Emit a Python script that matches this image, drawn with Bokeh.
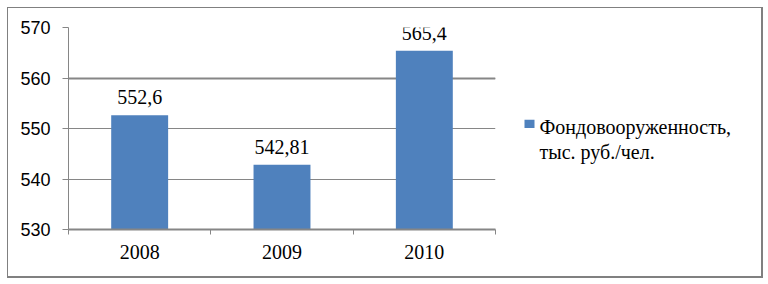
from bokeh.plotting import figure
from bokeh.layouts import row
from bokeh.models import (Range1d, FixedTicker, ColumnDataSource, LabelSet, Grid)
from bokeh.core.properties import value
from bokeh.embed import file_html
from bokeh.resources import INLINE

years = ["2008", "2009", "2010"]
values = [552.6, 542.81, 565.4]
value_labels = [str(v).replace(".", ",") for v in values]
y_ticks = [530, 540, 550, 560, 570]
series_name = "Фондовооруженность,\nтыс. руб./чел."

BAR = "#4F81BD"
GRID = "#868686"

xs = [i + 0.5 for i in range(len(years))]
src = ColumnDataSource(dict(x=xs, top=values, lbl=value_labels))

p = figure(width=492, height=268, output_backend="svg", toolbar_location=None,
           x_range=Range1d(0, len(years)), y_range=Range1d(y_ticks[0], y_ticks[-1]),
           min_border_left=60, min_border_right=5, min_border_top=19,
           min_border_bottom=47)
p.outline_line_color = None
p.background_fill_color = "white"
p.border_fill_color = "white"

bars = p.vbar(x="x", top="top", bottom=y_ticks[0], width=0.4, source=src,
              fill_color=BAR, line_color=None)

# axes
p.xaxis.ticker = FixedTicker(ticks=xs, minor_ticks=list(range(len(years) + 1)))
p.xaxis.major_label_overrides = {x: y for x, y in zip(xs, years)}
p.xaxis.major_tick_out = 0
p.xaxis.major_tick_in = 0
p.xaxis.minor_tick_out = 5
p.xaxis.minor_tick_in = 0
p.xaxis.minor_tick_line_color = GRID
p.xaxis.axis_line_color = GRID
p.xaxis.axis_line_width = 2
p.xaxis.major_label_text_font = "Liberation Serif"
p.xaxis.major_label_text_font_size = "20px"
p.xaxis.major_label_text_color = "black"
p.xaxis.major_label_standoff = 10

p.yaxis.ticker = FixedTicker(ticks=y_ticks)
p.yaxis.minor_tick_line_color = None
p.yaxis.major_tick_out = 6
p.yaxis.major_tick_in = 0
p.yaxis.major_tick_line_color = GRID
p.yaxis.axis_line_color = GRID
p.yaxis.major_label_text_font = "Liberation Sans"
p.yaxis.major_label_text_font_size = "18px"
p.yaxis.major_label_text_color = "black"
p.yaxis.major_label_standoff = 12

p.xgrid.grid_line_color = None
p.ygrid.ticker = FixedTicker(ticks=y_ticks[1:])
p.ygrid.grid_line_color = GRID
p.ygrid.grid_line_width = 1
# the 560 line looks heavier in the reference
p.add_layout(Grid(dimension=1, ticker=FixedTicker(ticks=[y_ticks[3]]),
                  grid_line_color=GRID, grid_line_width=2))

labels = LabelSet(x="x", y="top", text="lbl", source=src, text_align="center",
                  text_baseline="middle", y_offset=18, text_font="Liberation Serif",
                  text_font_size="20px", text_color="black")
p.add_layout(labels)

# legend panel: pixel-like coordinates, y grows downward
q = figure(width=261, height=268, output_backend="svg", toolbar_location=None,
           x_range=Range1d(0, 261), y_range=Range1d(268, 0),
           min_border=0, x_axis_type=None, y_axis_type=None)
q.outline_line_color = None
q.xgrid.grid_line_color = None
q.ygrid.grid_line_color = None
q.rect(x=[29], y=[128], width=10, height=11, fill_color=BAR, line_color=None)
q.text(x=[39], y=[118], text=[series_name], text_baseline="top", text_align="left",
       text_font=value("Liberation Serif"), text_font_size="20px",
       text_line_height=1.1, text_color="black")

layout = row(p, q, spacing=0,
             styles={"border-style": "solid", "border-color": "#808080",
                     "border-width": "1px 2px 2px 1px"},
             margin=(7, 0, 0, 7))

open("out.html", "w").write(file_html(layout, INLINE))
